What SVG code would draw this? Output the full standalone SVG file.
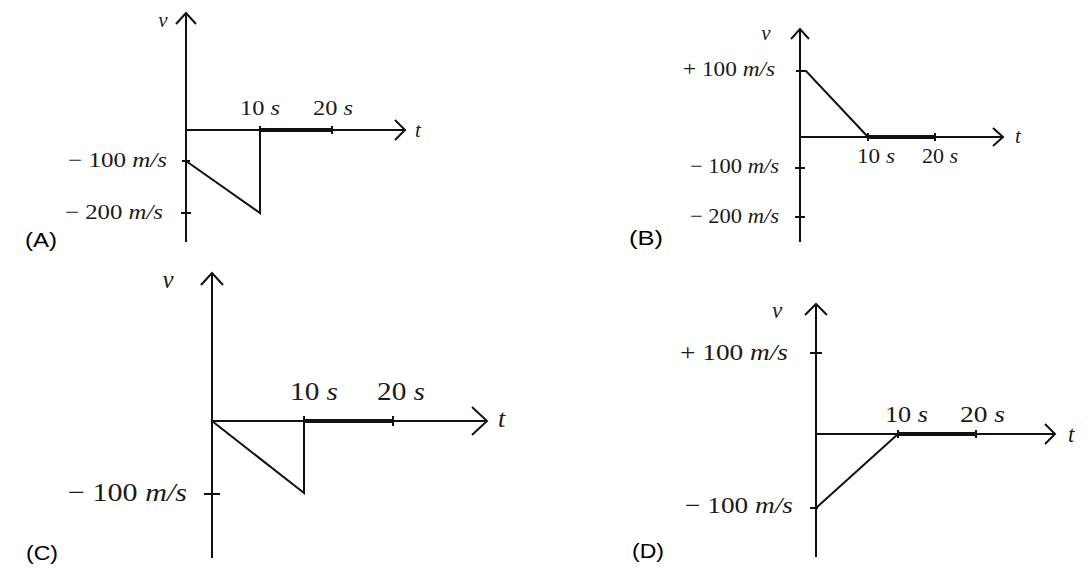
<svg xmlns="http://www.w3.org/2000/svg" width="1091" height="579" viewBox="0 0 1091 579">
<style>
.ax{stroke:#111;stroke-width:2;fill:none}
.th{stroke:#111;stroke-width:4;fill:none}
.ln{stroke:#111;stroke-width:2;fill:none}
.tm{font-family:"Liberation Serif","Times New Roman",serif;fill:#1a1a1a}
.it{font-style:italic}
.lab{font-family:"Liberation Sans",Arial,sans-serif;fill:#000;font-size:21px}
</style>
<rect width="1091" height="579" fill="#fff"/>
<g id="panelA">
  <g id="A-axes">
    <line class="ax" x1="186" y1="13" x2="186" y2="242"/>
    <polyline class="ax" points="176,24 186,13 196,24"/>
    <line class="ax" x1="186" y1="130" x2="405" y2="130"/>
    <polyline class="ax" points="395,120 405,130 395,140"/>
    <line class="ax" x1="260" y1="126" x2="260" y2="134"/>
    <line class="ax" x1="332" y1="126" x2="332" y2="134"/>
    <line class="th" x1="260" y1="130" x2="332" y2="130"/>
    <line class="ax" x1="182" y1="161" x2="190" y2="161"/>
    <line class="ax" x1="181" y1="213" x2="191" y2="213"/>
  </g>
  <polyline class="ln" points="186,161 260,213 260,130"/>
  <text class="tm it" x="163" y="27" font-size="21" text-anchor="middle">v</text>
  <text class="tm it" x="415" y="137" font-size="21">t</text>
  <text class="tm" x="240" y="115" font-size="21" textLength="40" lengthAdjust="spacingAndGlyphs">10 <tspan class="it">s</tspan></text>
  <text class="tm" x="313" y="115" font-size="21" textLength="40" lengthAdjust="spacingAndGlyphs">20 <tspan class="it">s</tspan></text>
  <text class="tm" x="68" y="167" font-size="21" textLength="99" lengthAdjust="spacingAndGlyphs">− 100 <tspan class="it">m/s</tspan></text>
  <text class="tm" x="65" y="219" font-size="21" textLength="98" lengthAdjust="spacingAndGlyphs">− 200 <tspan class="it">m/s</tspan></text>
  <text class="lab" x="25" y="247" textLength="32" lengthAdjust="spacingAndGlyphs">(A)</text>
</g>
<g id="panelB">
  <g id="B-axes">
    <line class="ax" x1="800" y1="29" x2="800" y2="242"/>
    <polyline class="ax" points="791,39 800,29 809,39"/>
    <line class="ax" x1="800" y1="137" x2="1003" y2="137"/>
    <polyline class="ax" points="993,128 1003,137 993,146"/>
    <line class="ax" x1="868" y1="133" x2="868" y2="141"/>
    <line class="ax" x1="935" y1="133" x2="935" y2="141"/>
    <line class="th" x1="868" y1="137" x2="935" y2="137"/>
    <line class="ax" x1="796" y1="71" x2="806" y2="71"/>
    <line class="ax" x1="795" y1="168" x2="805" y2="168"/>
    <line class="ax" x1="795" y1="217" x2="805" y2="217"/>
  </g>
  <polyline class="ln" points="800,71 806,71 868,137"/>
  <text class="tm it" x="766" y="40" font-size="21" text-anchor="middle">v</text>
  <text class="tm it" x="1015" y="143" font-size="21">t</text>
  <text class="tm" x="683" y="76" font-size="21" textLength="92" lengthAdjust="spacingAndGlyphs">+ 100 <tspan class="it">m/s</tspan></text>
  <text class="tm" x="857" y="163" font-size="21" textLength="38" lengthAdjust="spacingAndGlyphs">10 <tspan class="it">s</tspan></text>
  <text class="tm" x="922" y="163" font-size="21" textLength="36" lengthAdjust="spacingAndGlyphs">20 <tspan class="it">s</tspan></text>
  <text class="tm" x="690" y="173" font-size="21" textLength="89" lengthAdjust="spacingAndGlyphs">− 100 <tspan class="it">m/s</tspan></text>
  <text class="tm" x="690" y="223" font-size="21" textLength="89" lengthAdjust="spacingAndGlyphs">− 200 <tspan class="it">m/s</tspan></text>
  <text class="lab" x="629" y="245" textLength="34" lengthAdjust="spacingAndGlyphs">(B)</text>
</g>
<g id="panelC">
  <g id="C-axes">
    <line class="ax" x1="212" y1="273" x2="212" y2="558"/>
    <polyline class="ax" points="201,285 212,273 223,285"/>
    <line class="ax" x1="212" y1="421" x2="487" y2="421"/>
    <polyline class="ax" points="472,407 487,421 472,435"/>
    <line class="ax" x1="304" y1="416" x2="304" y2="426"/>
    <line class="ax" x1="393" y1="416" x2="393" y2="426"/>
    <line class="th" x1="304" y1="421" x2="393" y2="421"/>
    <line class="ax" x1="204" y1="494" x2="220" y2="494"/>
  </g>
  <polyline class="ln" points="212,421 304,493 304,421"/>
  <text class="tm it" x="168" y="288" font-size="25" text-anchor="middle">v</text>
  <text class="tm it" x="498" y="427" font-size="26">t</text>
  <text class="tm" x="290" y="400" font-size="26" textLength="48" lengthAdjust="spacingAndGlyphs">10 <tspan class="it">s</tspan></text>
  <text class="tm" x="377" y="400" font-size="26" textLength="48" lengthAdjust="spacingAndGlyphs">20 <tspan class="it">s</tspan></text>
  <text class="tm" x="68" y="501" font-size="26" textLength="119" lengthAdjust="spacingAndGlyphs">− 100 <tspan class="it">m/s</tspan></text>
  <text class="lab" x="26" y="560" textLength="32" lengthAdjust="spacingAndGlyphs">(C)</text>
</g>
<g id="panelD">
  <g id="D-axes">
    <line class="ax" x1="816" y1="304" x2="816" y2="557"/>
    <polyline class="ax" points="805,315 816,304 827,315"/>
    <line class="ax" x1="816" y1="434" x2="1055" y2="434"/>
    <polyline class="ax" points="1045,424 1055,434 1045,444"/>
    <line class="ax" x1="898" y1="430" x2="898" y2="438"/>
    <line class="ax" x1="976" y1="430" x2="976" y2="438"/>
    <line class="th" x1="898" y1="434" x2="976" y2="434"/>
    <line class="ax" x1="810" y1="353" x2="822" y2="353"/>
    <line class="ax" x1="810" y1="508" x2="818" y2="508"/>
  </g>
  <polyline class="ln" points="816,508 898,434"/>
  <text class="tm it" x="777" y="318" font-size="23" text-anchor="middle">v</text>
  <text class="tm it" x="1068" y="442" font-size="23">t</text>
  <text class="tm" x="680" y="360" font-size="23" textLength="108" lengthAdjust="spacingAndGlyphs">+ 100 <tspan class="it">m/s</tspan></text>
  <text class="tm" x="885" y="422" font-size="23" textLength="43" lengthAdjust="spacingAndGlyphs">10 <tspan class="it">s</tspan></text>
  <text class="tm" x="960" y="422" font-size="23" textLength="45" lengthAdjust="spacingAndGlyphs">20 <tspan class="it">s</tspan></text>
  <text class="tm" x="685" y="513" font-size="23" textLength="108" lengthAdjust="spacingAndGlyphs">− 100 <tspan class="it">m/s</tspan></text>
  <text class="lab" x="632" y="558" textLength="32" lengthAdjust="spacingAndGlyphs">(D)</text>
</g>
</svg>
